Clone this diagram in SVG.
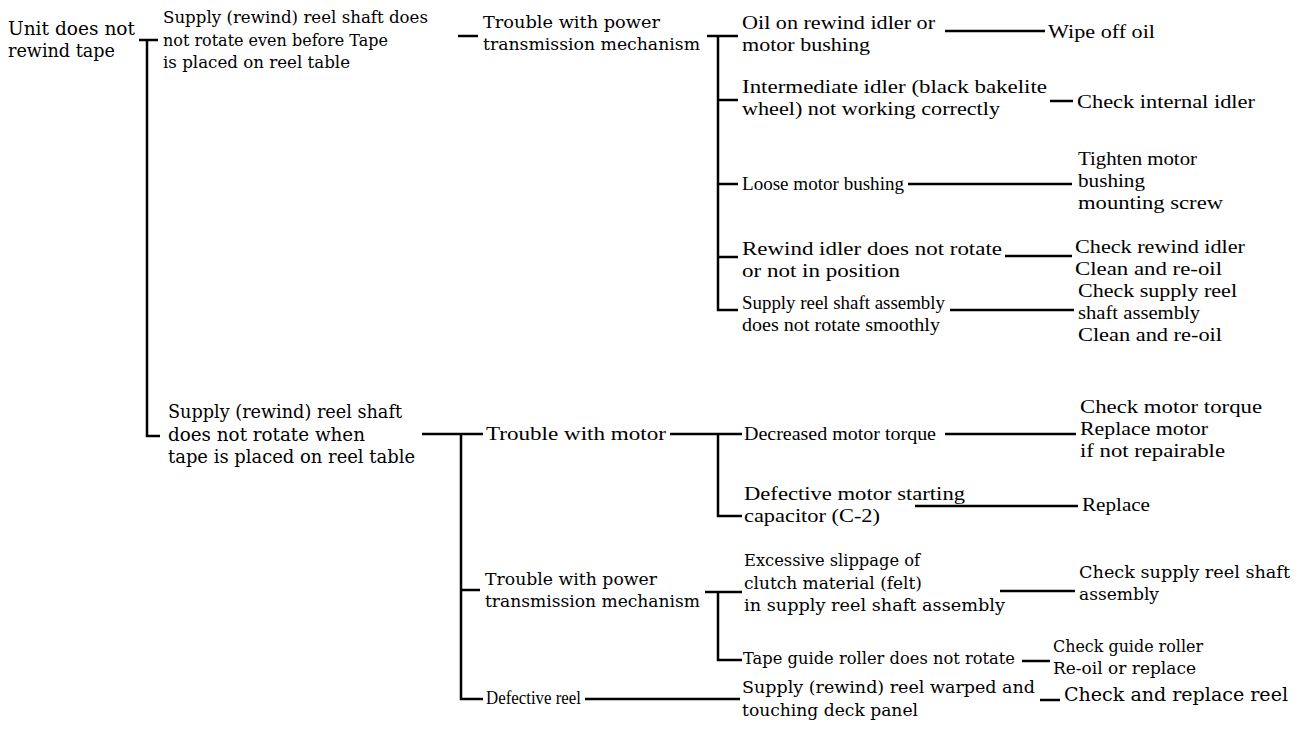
<svg xmlns="http://www.w3.org/2000/svg" width="1306" height="747" viewBox="0 0 1306 747">
<style>
.c{font-family:"DejaVu Serif","Liberation Serif",serif;fill:#000}
.t{font-family:"Liberation Serif","Times New Roman",serif;fill:#000;font-size:19.5px}
.s165{font-size:16.5px}.s17{font-size:17px}.s175{font-size:17.5px}.s18{font-size:18px}
#connectors path{fill:none;stroke:#000;stroke-width:2.5}
</style>
<rect width="1306" height="747" fill="#fff"/>
<g id="connectors">
<path d="M139,40 H158 M147,40 V436 H160"/>
<path d="M458,36 H478"/>
<path d="M707,36 H738 M718,36 V310 H738 M718,100 H738 M718,184 H738 M718,257 H738"/>
<path d="M945,31 H1045"/>
<path d="M1050,101 H1073"/>
<path d="M908,184 H1072"/>
<path d="M1005,256 H1072"/>
<path d="M950,310 H1074"/>
<path d="M422,434 H483 M461,434 V699 H483 M461,590 H480"/>
<path d="M670,434 H742 M718,434 V516 H742"/>
<path d="M945,434 H1076"/>
<path d="M915,506 H1078"/>
<path d="M705,592 H742 M718,592 V660 H742"/>
<path d="M1000,591 H1075"/>
<path d="M1022,661 H1050"/>
<path d="M585,699 H740"/>
<path d="M1040,700 H1060"/>
</g>
<g id="n0"><text class="c s18" x="8" y="35" textLength="127" lengthAdjust="spacingAndGlyphs">Unit does not</text><text class="c s18" x="8" y="57" textLength="107" lengthAdjust="spacingAndGlyphs">rewind tape</text></g>
<g id="n1"><text class="c s17" x="163" y="23" textLength="265" lengthAdjust="spacingAndGlyphs">Supply (rewind) reel shaft does</text><text class="c s17" x="163" y="46" textLength="225" lengthAdjust="spacingAndGlyphs">not rotate even before Tape</text><text class="c s17" x="163" y="68" textLength="187" lengthAdjust="spacingAndGlyphs">is placed on reel table</text></g>
<g id="n2"><text class="c s175" x="483" y="28" textLength="177" lengthAdjust="spacingAndGlyphs">Trouble with power</text><text class="c s175" x="483" y="50" textLength="217" lengthAdjust="spacingAndGlyphs">transmission mechanism</text></g>
<g id="n3"><text class="t" x="742" y="29" textLength="193" lengthAdjust="spacingAndGlyphs">Oil on rewind idler or</text><text class="t" x="742" y="51" textLength="128" lengthAdjust="spacingAndGlyphs">motor bushing</text></g>
<g id="n4"><text class="t" x="1048" y="38" textLength="107" lengthAdjust="spacingAndGlyphs">Wipe off oil</text></g>
<g id="n5"><text class="t" x="742" y="93" textLength="305" lengthAdjust="spacingAndGlyphs">Intermediate idler (black bakelite</text><text class="t" x="742" y="115" textLength="258" lengthAdjust="spacingAndGlyphs">wheel) not working correctly</text></g>
<g id="n6"><text class="t" x="1077" y="108" textLength="178" lengthAdjust="spacingAndGlyphs">Check internal idler</text></g>
<g id="n7"><text class="t" x="742" y="190" textLength="162" lengthAdjust="spacingAndGlyphs">Loose motor bushing</text></g>
<g id="n8"><text class="t" x="1078" y="165" textLength="119" lengthAdjust="spacingAndGlyphs">Tighten motor</text><text class="t" x="1078" y="187" textLength="67" lengthAdjust="spacingAndGlyphs">bushing</text><text class="t" x="1078" y="209" textLength="145" lengthAdjust="spacingAndGlyphs">mounting screw</text></g>
<g id="n9"><text class="t" x="742" y="255" textLength="260" lengthAdjust="spacingAndGlyphs">Rewind idler does not rotate</text><text class="t" x="742" y="277" textLength="158" lengthAdjust="spacingAndGlyphs">or not in position</text></g>
<g id="n10"><text class="t" x="1075" y="253" textLength="170" lengthAdjust="spacingAndGlyphs">Check rewind idler</text><text class="t" x="1075" y="275" textLength="147" lengthAdjust="spacingAndGlyphs">Clean and re-oil</text></g>
<g id="n11"><text class="t" x="742" y="309" textLength="203" lengthAdjust="spacingAndGlyphs">Supply reel shaft assembly</text><text class="t" x="742" y="331" textLength="198" lengthAdjust="spacingAndGlyphs">does not rotate smoothly</text></g>
<g id="n12"><text class="t" x="1078" y="297" textLength="159" lengthAdjust="spacingAndGlyphs">Check supply reel</text><text class="t" x="1078" y="319" textLength="122" lengthAdjust="spacingAndGlyphs">shaft assembly</text><text class="t" x="1078" y="341" textLength="144" lengthAdjust="spacingAndGlyphs">Clean and re-oil</text></g>
<g id="n13"><text class="c s18" x="168" y="418" textLength="234" lengthAdjust="spacingAndGlyphs">Supply (rewind) reel shaft</text><text class="c s18" x="168" y="441" textLength="197" lengthAdjust="spacingAndGlyphs">does not rotate when</text><text class="c s18" x="168" y="463" textLength="247" lengthAdjust="spacingAndGlyphs">tape is placed on reel table</text></g>
<g id="n14"><text class="t" x="486" y="440" textLength="180" lengthAdjust="spacingAndGlyphs">Trouble with motor</text></g>
<g id="n15"><text class="t" x="744" y="440" textLength="192" lengthAdjust="spacingAndGlyphs">Decreased motor torque</text></g>
<g id="n16"><text class="t" x="1080" y="413" textLength="182" lengthAdjust="spacingAndGlyphs">Check motor torque</text><text class="t" x="1080" y="435" textLength="128" lengthAdjust="spacingAndGlyphs">Replace motor</text><text class="t" x="1080" y="457" textLength="145" lengthAdjust="spacingAndGlyphs">if not repairable</text></g>
<g id="n17"><text class="t" x="744" y="500" textLength="221" lengthAdjust="spacingAndGlyphs">Defective motor starting</text><text class="t" x="744" y="522" textLength="136" lengthAdjust="spacingAndGlyphs">capacitor (C-2)</text></g>
<g id="n18"><text class="t" x="1082" y="511" textLength="68" lengthAdjust="spacingAndGlyphs">Replace</text></g>
<g id="n19"><text class="c s17" x="485" y="585" textLength="172" lengthAdjust="spacingAndGlyphs">Trouble with power</text><text class="c s17" x="485" y="607" textLength="215" lengthAdjust="spacingAndGlyphs">transmission mechanism</text></g>
<g id="n20"><text class="c s17" x="744" y="566" textLength="176" lengthAdjust="spacingAndGlyphs">Excessive slippage of</text><text class="c s17" x="744" y="589" textLength="178" lengthAdjust="spacingAndGlyphs">clutch material (felt)</text><text class="c s17" x="744" y="611" textLength="261" lengthAdjust="spacingAndGlyphs">in supply reel shaft assembly</text></g>
<g id="n21"><text class="c s175" x="1079" y="578" textLength="211" lengthAdjust="spacingAndGlyphs">Check supply reel shaft</text><text class="c s175" x="1079" y="600" textLength="80" lengthAdjust="spacingAndGlyphs">assembly</text></g>
<g id="n22"><text class="c s165" x="743" y="664" textLength="272" lengthAdjust="spacingAndGlyphs">Tape guide roller does not rotate</text></g>
<g id="n23"><text class="c s17" x="1053" y="652" textLength="150" lengthAdjust="spacingAndGlyphs">Check guide roller</text><text class="c s17" x="1053" y="674" textLength="143" lengthAdjust="spacingAndGlyphs">Re-oil or replace</text></g>
<g id="n24"><text class="t" x="486" y="704" textLength="95" lengthAdjust="spacingAndGlyphs">Defective reel</text></g>
<g id="n25"><text class="c s175" x="742" y="693" textLength="293" lengthAdjust="spacingAndGlyphs">Supply (rewind) reel warped and</text><text class="c s175" x="742" y="716" textLength="176" lengthAdjust="spacingAndGlyphs">touching deck panel</text></g>
<g id="n26"><text class="c s18" x="1064" y="701" textLength="224" lengthAdjust="spacingAndGlyphs">Check and replace reel</text></g>
</svg>
